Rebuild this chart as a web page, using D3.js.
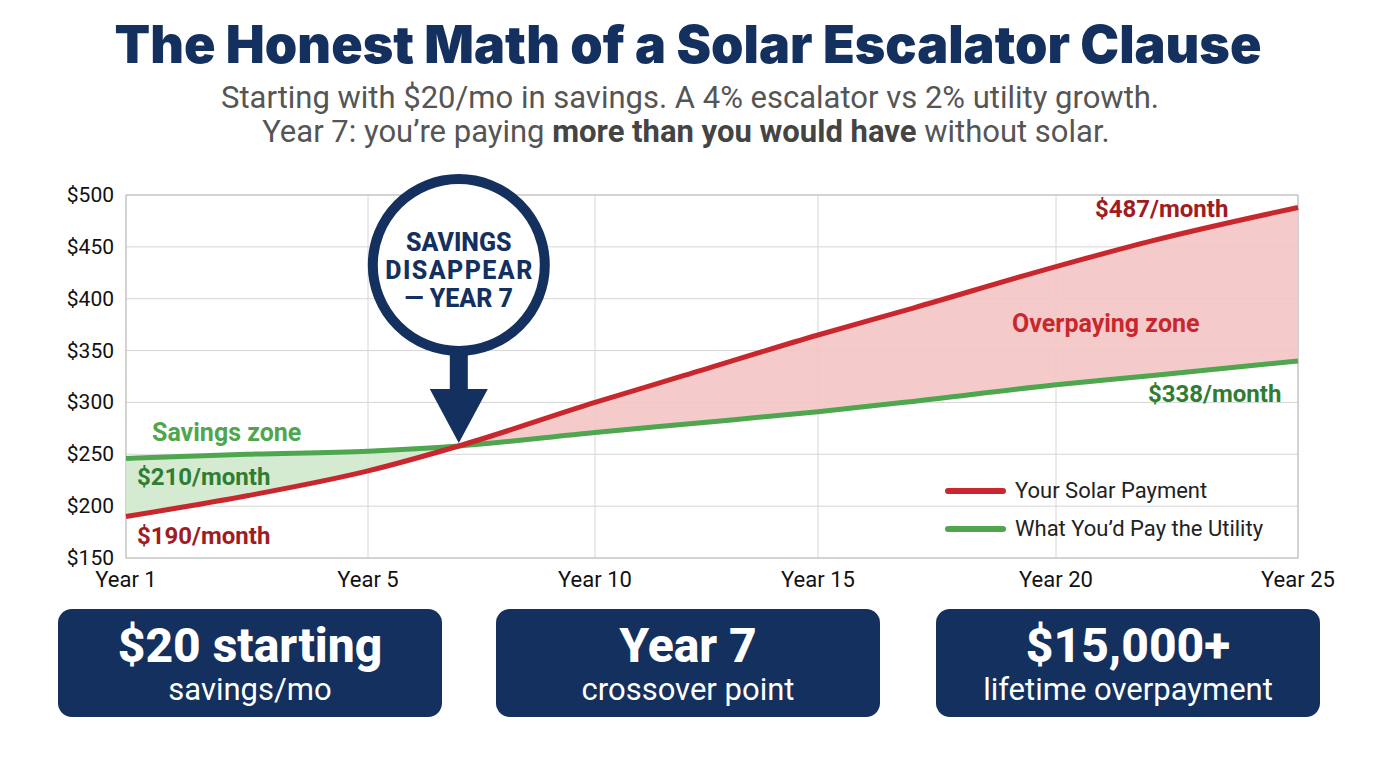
<!DOCTYPE html>
<html><head><meta charset="utf-8">
<script src="https://cdn.jsdelivr.net/npm/d3@7"></script>
<style>body{margin:0;background:#fff;font-family:Roboto,"Open Sans",sans-serif}</style>
</head><body><svg id="c" width="1376" height="768"></svg>
<script>
const years = [1,3,5,7,10,12,15,17,20,22,25];
const solar = [190,210,234,258,300,326,365,391,431,456,488];
const utility = [246,250,253,258,271,279,291,301,317,326,340];
const xTicks = [1,5,10,15,20,25];
const xTickPos = [126,368,595,818,1056,1298];
const yTicks = [150,200,250,300,350,400,450,500];
const crossYear = 7;

const svg = d3.select("#c");
const navy = "#13305f", red = "#c8282d", green = "#4ea64e", dred = "#a01c22", dgreen = "#2f7d32";
const x = d3.scaleLinear().domain(xTicks).range(xTickPos);
const y = d3.scaleLinear().domain([150,500]).range([558,195]);
const L = 126, R = 1298, T = 195, B = 558;

svg.append("text").attr("x",688).attr("y",63).attr("text-anchor","middle")
  .attr("font-size",52).attr("font-weight",900).attr("fill",navy).attr("font-family","Inter, Roboto, sans-serif")
  .text("The Honest Math of a Solar Escalator Clause");
svg.append("text").attr("x",690).attr("y",108).attr("text-anchor","middle").attr("font-size",31).attr("fill","#555")
  .text("Starting with $20/mo in savings. A 4% escalator vs 2% utility growth.");
const t2 = svg.append("text").attr("x",686).attr("y",142).attr("text-anchor","middle").attr("font-size",31).attr("fill","#555");
t2.append("tspan").text("Year 7: you\u2019re paying ");
t2.append("tspan").attr("font-weight",700).attr("fill","#444").text("more than you would have");
t2.append("tspan").text(" without solar.");

svg.append("g").selectAll("line").data(yTicks).join("line")
  .attr("x1",L).attr("x2",R).attr("y1",d=>y(d)).attr("y2",d=>y(d)).attr("stroke","#d6d6d6");
svg.append("g").selectAll("line").data(xTicks).join("line")
  .attr("y1",T).attr("y2",B).attr("x1",d=>x(d)).attr("x2",d=>x(d)).attr("stroke","#d6d6d6");
svg.append("rect").attr("x",L).attr("y",T).attr("width",R-L).attr("height",B-T).attr("fill","none").attr("stroke","#bbb");

svg.append("g").selectAll("text").data(yTicks).join("text")
  .attr("x",114).attr("y",d=>y(d)+7).attr("text-anchor","end").attr("font-size",21).attr("fill","#111").text(d=>"$"+d);
svg.append("g").selectAll("text").data(xTicks).join("text")
  .attr("x",d=>x(d)).attr("y",587).attr("text-anchor","middle").attr("font-size",22).attr("fill","#111").text(d=>"Year "+d);

const pts = years.map((yr,i)=>({yr,s:solar[i],u:utility[i]}));
const area = d3.area().curve(d3.curveMonotoneX).x(d=>x(d.yr)).y0(d=>y(d.s)).y1(d=>y(d.u));
svg.append("path").attr("d",area(pts.filter(d=>d.yr<=crossYear))).attr("fill","#cfe9cc").attr("opacity",0.9);
svg.append("path").attr("d",area(pts.filter(d=>d.yr>=crossYear))).attr("fill","#f4c4c4").attr("opacity",0.9);
const line = k => d3.line().curve(d3.curveMonotoneX).x(d=>x(d.yr)).y(d=>y(d[k]));
svg.append("path").attr("d",line("u")(pts)).attr("fill","none").attr("stroke",green).attr("stroke-width",5);
svg.append("path").attr("d",line("s")(pts)).attr("fill","none").attr("stroke",red).attr("stroke-width",5);

function lab(t,xx,yy,c,fs){svg.append("text").attr("x",xx).attr("y",yy).attr("font-size",fs).attr("font-weight",700).attr("fill",c).text(t);}
lab("$487/month",1095,217,dred,24);
lab("Overpaying zone",1012,332,red,25);
lab("$338/month",1148,402,dgreen,24);
lab("Savings zone",152,441,green,25);
lab("$210/month",137,485,dgreen,24);
lab("$190/month",137,544,dred,24);

[[red,"Your Solar Payment",491],[green,"What You\u2019d Pay the Utility",529]].forEach(([c,t,yy])=>{
  svg.append("line").attr("x1",948).attr("x2",1003).attr("y1",yy).attr("y2",yy).attr("stroke",c).attr("stroke-width",6).attr("stroke-linecap","round");
  svg.append("text").attr("x",1015).attr("y",yy+7).attr("font-size",22).attr("fill","#222").text(t);
});

const cx = x(crossYear), cy = 265;
svg.append("rect").attr("x",cx-9).attr("y",cy+80).attr("width",18).attr("height",48).attr("fill",navy);
svg.append("path").attr("d",`M${cx-29},${cy+124} L${cx+29},${cy+124} L${cx},${y(258)-3} Z`).attr("fill",navy);
svg.append("circle").attr("cx",cx).attr("cy",cy).attr("r",86).attr("fill","#fff").attr("stroke",navy).attr("stroke-width",10);
["SAVINGS","DISAPPEAR","\u2014 YEAR 7"].forEach((t,i)=>svg.append("text").attr("x",cx).attr("y",251+i*28)
  .attr("text-anchor","middle").attr("font-size",25).attr("font-weight",800).attr("fill",navy)
  .attr("textLength",t==="DISAPPEAR"?147:null).text(t));

[[58,"$20 starting","savings/mo"],[496,"Year 7","crossover point"],[936,"$15,000+","lifetime overpayment"]].forEach(([bx,a,b])=>{
  svg.append("rect").attr("x",bx).attr("y",609).attr("width",384).attr("height",108).attr("rx",14).attr("fill",navy);
  svg.append("text").attr("x",bx+192).attr("y",662).attr("text-anchor","middle").attr("font-size",48).attr("font-weight",800).attr("fill","#fff").text(a);
  svg.append("text").attr("x",bx+192).attr("y",700).attr("text-anchor","middle").attr("font-size",31).attr("fill","#fff").text(b);
});
</script></body></html>
